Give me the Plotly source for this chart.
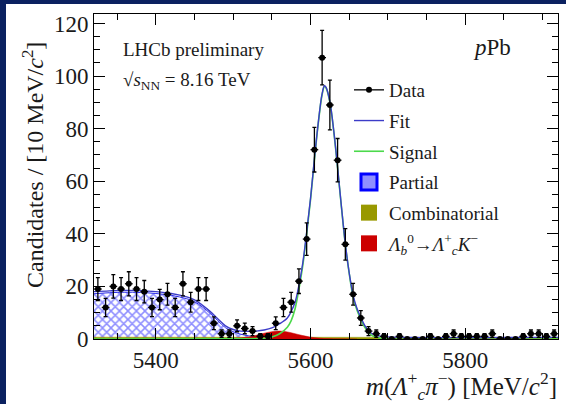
import numpy as np
import plotly.graph_objects as go

# ---------------- data ----------------
mass_bins = [5325 + 10 * i for i in range(60)]
counts = [19, 12, 20, 19, 21, 19, 18, 12, 15, 17,
          12, 21, 14, 19, 19, 6, 2, 2, 5, 4,
          3, 1, 1, 6, 12, 14, 22, 38, 72, 107,
          89, 68, 36, 17, 8, 3, 2, 1, 0, 1,
          0, 0, 0, 1, 0, 1, 2, 1, 1, 1,
          1, 2, 0, 0, 0, 1, 2, 2, 1, 2]

partial_x = [5320, 5340, 5360, 5380, 5400, 5420, 5440, 5450, 5460, 5470,
             5480, 5490, 5500, 5510, 5520, 5530, 5540, 5550, 5560, 5580]
partial_y = [17.2, 17.6, 17.8, 17.7, 17.3, 16.6, 15.3, 14.2, 12.2, 9.8,
             7.0, 4.3, 2.8, 1.8, 1.2, 0.7, 0.4, 0.2, 0.1, 0.0]

comb_x = [5320, 5620, 5920]
comb_y = [0.7, 0.65, 0.6]

lbk_x = [5480, 5500, 5520, 5530, 5540, 5550, 5560, 5570, 5580, 5590, 5600, 5610, 5620, 5640, 5660]
lbk_y = [0.0, 0.2, 0.8, 1.4, 2.2, 2.8, 3.0, 2.7, 2.0, 1.3, 0.7, 0.35, 0.15, 0.05, 0.0]

sig_x = [5320, 5500, 5540, 5550, 5560, 5570, 5575, 5580, 5585, 5590, 5595, 5600,
         5605, 5610, 5615, 5618, 5620, 5625, 5630, 5635, 5640, 5645, 5650,
         5655, 5660, 5665, 5670, 5675, 5680, 5690, 5700, 5920]
sig_y = [0.0, 0.05, 0.3, 0.8, 2.0, 4.5, 7.0, 11.5, 19.0, 28.0, 40.0, 53.0,
         68.0, 82.0, 93.0, 96.0, 95.5, 90.0, 79.0, 65.0, 50.0, 36.0, 25.0,
         16.0, 11.0, 7.5, 4.5, 2.5, 1.2, 0.4, 0.1, 0.0]

fit_x = [5320, 5340, 5360, 5380, 5400, 5420, 5440, 5450, 5460, 5470,
         5480, 5490, 5500, 5510, 5520, 5530, 5540, 5550, 5560, 5570, 5575,
         5580, 5585, 5590, 5595, 5600, 5605, 5610, 5615, 5618, 5620, 5625,
         5630, 5635, 5640, 5645, 5650, 5655, 5660, 5665, 5670, 5675, 5680,
         5690, 5700, 5920]
fit_y = [18.0, 18.3, 18.5, 18.4, 18.0, 17.3, 16.0, 14.9, 12.9, 10.5,
         7.7, 5.0, 3.6, 3.0, 2.9, 3.0, 3.4, 4.2, 5.8, 8.0, 10.5,
         14.0, 20.5, 29.0, 40.7, 53.5, 68.5, 82.3, 93.3, 96.3, 95.8, 90.3,
         79.3, 65.2, 50.2, 36.2, 25.2, 16.7, 11.7, 8.2, 5.2, 3.2, 1.9,
         1.1, 0.8, 0.6]

x_range = [5320, 5920]
y_range = [0, 123.6]

# ---------------- figure ----------------
FONT = "Liberation Serif, Times New Roman, serif"
NAVY = "#0b2160"
TXT = "#1a1a1a"
BLUE_FIT = "#3c3cc8"
GREEN = "#4cd94c"
OLIVE = "#999900"
RED = "#cc0000"
LBK_NAME = "<i>Λ<sub>b</sub></i><sup>0</sup>→<i>Λ</i><sup>+</sup><sub><i>c</i></sub><i>K</i><sup>−</sup>"

fig = go.Figure()

# plotted components (legend handled by dedicated legend entries below)
fig.add_trace(go.Scatter(
    x=partial_x, y=partial_y, mode="lines", fill="tozeroy",
    line=dict(color="#2a2ae6", width=1, shape="spline"),
    fillcolor="rgba(255,255,255,0)",
    fillpattern=dict(shape="x", fgcolor="#1f1fff", bgcolor="white", size=6, solidity=0.45),
    showlegend=False))

fig.add_trace(go.Scatter(
    x=comb_x, y=comb_y, mode="lines", fill="tozeroy",
    line=dict(color=OLIVE, width=0.5), fillcolor=OLIVE, showlegend=False))

fig.add_trace(go.Scatter(
    x=lbk_x, y=lbk_y, mode="lines", fill="tozeroy",
    line=dict(color=RED, width=0.5, shape="spline"), fillcolor=RED, showlegend=False))

fig.add_trace(go.Scatter(
    x=sig_x, y=sig_y, mode="lines",
    line=dict(color=GREEN, width=1.6, shape="spline"), showlegend=False))

fig.add_trace(go.Scatter(
    x=fit_x, y=fit_y, mode="lines",
    line=dict(color=BLUE_FIT, width=1.4, shape="spline"), showlegend=False))

cnt = np.array(counts, dtype=float)
fig.add_trace(go.Scatter(
    x=mass_bins, y=counts, mode="markers",
    marker=dict(color="black", size=6),
    error_y=dict(type="data", array=np.sqrt(cnt), color="black", thickness=1.3, width=2),
    error_x=dict(type="constant", value=5, color="black", thickness=1.3, width=0),
    showlegend=False))

# legend entries
def leg(name, rank, **kw):
    fig.add_trace(go.Scatter(x=[None], y=[None], name=name, legendgroup=name,
                             legendrank=rank, showlegend=True, **kw))

leg("Data", 1, mode="lines+markers", line=dict(color="black", width=1.3),
    marker=dict(color="black", size=6))
leg("Fit", 2, mode="lines", line=dict(color=BLUE_FIT, width=1.4))
leg("Signal", 3, mode="lines", line=dict(color=GREEN, width=1.6))
leg("Partial", 4, mode="markers",
    marker=dict(symbol="square", size=20, color="#8f8fff", line=dict(color="#0000ff", width=3)))
leg("Combinatorial", 5, mode="markers",
    marker=dict(symbol="square", size=20, color=OLIVE, line=dict(color=OLIVE, width=0)))
leg(LBK_NAME, 6, mode="markers",
    marker=dict(symbol="square", size=20, color=RED, line=dict(color=RED, width=0)))

axis_common = dict(
    showline=True, linecolor="black", linewidth=1, mirror="allticks",
    ticks="inside", ticklen=11, tickwidth=1, tickcolor="black",
    showgrid=False, zeroline=False,
    tickfont=dict(family=FONT, size=23, color=TXT),
)

fig.update_xaxes(range=x_range, tick0=5400, dtick=200,
                 minor=dict(ticks="inside", ticklen=6, dtick=50, tick0=5400, tickcolor="black", showgrid=False),
                 **axis_common)
fig.update_yaxes(range=y_range, tick0=0, dtick=20,
                 minor=dict(ticks="inside", ticklen=6, dtick=5, tickcolor="black", showgrid=False),
                 **axis_common)

W, H = 566, 404
L, R, T, B = 94, 8, 14, 65
pw, ph = W - L - R, H - T - B

def px(x):
    return (x - L) / pw

def py(y):
    return 1 - (y - T) / ph

# navy slide background with white card
fig.add_shape(type="rect", xref="paper", yref="paper",
              x0=px(6), x1=px(W + 5), y0=py(4), y1=py(H + 5),
              fillcolor="white", line=dict(width=0), layer="below")

annotations = [
    dict(text="Candidates / [10 MeV/<i>c</i><sup>2</sup>]", x=px(33), y=py(165),
         textangle=-90, font=dict(size=24)),
    dict(text="<i>m</i>(<i>Λ</i><sup>+</sup><sub><i>c</i></sub><i>π</i><sup>−</sup>) [MeV/<i>c</i><sup>2</sup>]",
         x=px(559), y=py(386), xanchor="right", font=dict(size=25)),
    dict(text="LHCb preliminary", x=px(121), y=py(49), xanchor="left", font=dict(size=19)),
    dict(text="√<i>s</i><sub>NN</sub> = 8.16 TeV", x=px(121), y=py(81), xanchor="left", font=dict(size=19)),
    dict(text="<i>p</i>Pb", x=px(513), y=py(48), xanchor="right", font=dict(size=23)),
]
for a in annotations:
    a.setdefault("xanchor", "center")
    a.update(xref="paper", yref="paper", showarrow=False, yanchor="middle")
    a["font"].update(family=FONT, color=TXT)
    fig.add_annotation(**a)

fig.update_layout(
    width=W, height=H,
    margin=dict(l=L, r=R, t=T, b=B),
    font=dict(family=FONT, color=TXT),
    paper_bgcolor=NAVY, plot_bgcolor="rgba(0,0,0,0)",
    showlegend=True,
    legend=dict(x=px(349), y=py(71), xanchor="left", yanchor="top",
                bgcolor="rgba(0,0,0,0)", borderwidth=0,
                font=dict(family=FONT, size=19, color=TXT),
                tracegroupgap=3, itemwidth=30, itemsizing="trace"),
)

fig.write_html("out.html")
